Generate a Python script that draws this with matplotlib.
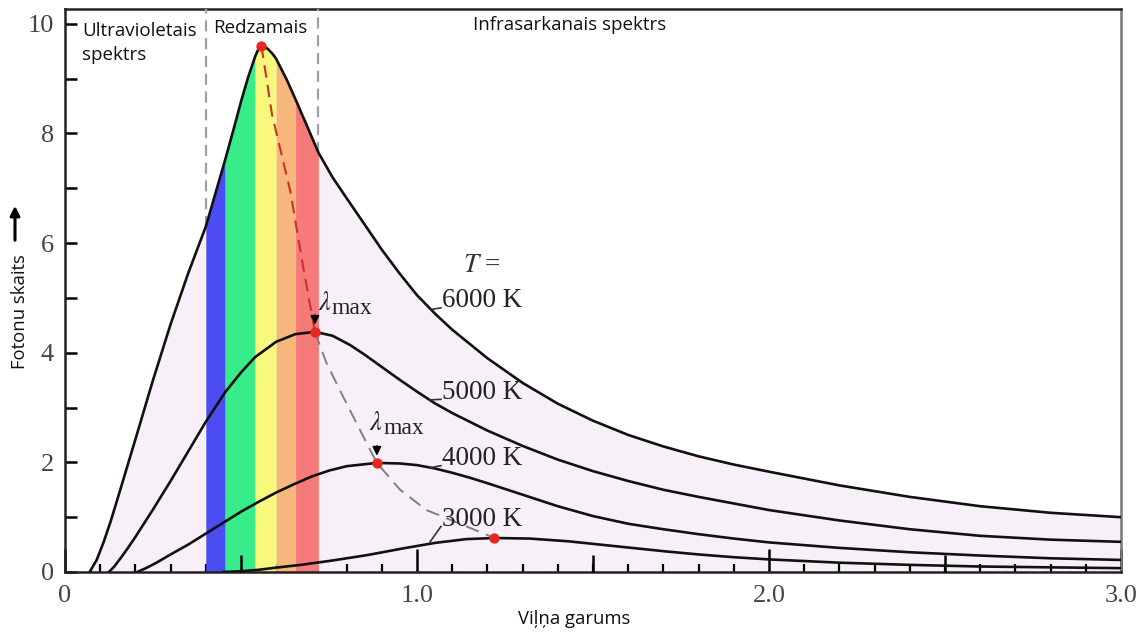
import matplotlib
matplotlib.use("Agg")
import matplotlib.pyplot as plt
import numpy as np
from matplotlib.ticker import FixedLocator, MultipleLocator

plt.rcParams["mathtext.fontset"] = "stix"

# photon count vs wavelength for each temperature
X_6000 = [0.07, 0.09, 0.11, 0.13, 0.15, 0.20, 0.25, 0.30, 0.35, 0.40, 0.455,
          0.48, 0.50, 0.52, 0.54, 0.549, 0.558, 0.567, 0.578, 0.59, 0.60, 0.63,
          0.655, 0.69, 0.72, 0.76, 0.80, 0.85, 0.90, 0.95, 1.00, 1.05, 1.10,
          1.20, 1.30, 1.40, 1.50, 1.60, 1.70, 1.80, 1.90, 2.00, 2.20, 2.40,
          2.60, 2.80, 3.00]
Y_6000 = [0.0, 0.22, 0.55, 0.93, 1.35, 2.42, 3.5, 4.52, 5.45, 6.3, 7.52,
          8.1, 8.58, 9.02, 9.4, 9.53, 9.6, 9.59, 9.53, 9.45, 9.36, 8.98,
          8.62, 8.1, 7.65, 7.2, 6.82, 6.35, 5.88, 5.45, 5.05, 4.72, 4.42,
          3.9, 3.45, 3.07, 2.76, 2.5, 2.29, 2.11, 1.96, 1.83, 1.58, 1.37,
          1.2, 1.08, 1.0]

X_5000 = [0.125, 0.14, 0.16, 0.18, 0.20, 0.25, 0.30, 0.35, 0.40, 0.455, 0.50,
          0.54, 0.60, 0.655, 0.71, 0.76, 0.81, 0.85, 0.90, 0.95, 1.00, 1.05,
          1.10, 1.20, 1.30, 1.40, 1.50, 1.60, 1.70, 1.80, 1.90, 2.00, 2.20,
          2.40, 2.60, 2.80, 3.00]
Y_5000 = [0.0, 0.1, 0.27, 0.45, 0.64, 1.14, 1.66, 2.2, 2.74, 3.28, 3.64,
          3.92, 4.2, 4.34, 4.38, 4.31, 4.14, 3.97, 3.74, 3.51, 3.29, 3.08,
          2.9, 2.58, 2.3, 2.05, 1.84, 1.66, 1.5, 1.37, 1.25, 1.13, 0.94,
          0.78, 0.66, 0.59, 0.55]

X_4000 = [0.205, 0.23, 0.26, 0.30, 0.35, 0.40, 0.45, 0.50, 0.55, 0.60, 0.65,
          0.70, 0.75, 0.80, 0.886, 0.95, 1.00, 1.05, 1.10, 1.15, 1.20, 1.30,
          1.40, 1.50, 1.60, 1.70, 1.80, 1.90, 2.00, 2.20, 2.40, 2.60, 2.80, 3.00]
Y_4000 = [0.0, 0.07, 0.17, 0.32, 0.5, 0.7, 0.9, 1.1, 1.28, 1.45, 1.6,
          1.74, 1.85, 1.93, 1.99, 1.98, 1.95, 1.89, 1.81, 1.72, 1.62, 1.41,
          1.2, 1.02, 0.88, 0.78, 0.69, 0.61, 0.54, 0.44, 0.36, 0.3, 0.25, 0.22]

X_3000 = [0.45, 0.50, 0.55, 0.60, 0.67, 0.76, 0.86, 0.96, 1.05, 1.14, 1.22,
          1.32, 1.43, 1.52, 1.61, 1.70, 1.80, 1.90, 2.00, 2.20, 2.40, 2.60,
          2.80, 3.00]
Y_3000 = [0.0, 0.015, 0.04, 0.08, 0.13, 0.21, 0.31, 0.43, 0.53, 0.6, 0.62,
          0.61, 0.56, 0.5, 0.44, 0.38, 0.32, 0.27, 0.23, 0.17, 0.13, 0.1,
          0.085, 0.07]

TEMPS = ["6000 K", "5000 K", "4000 K", "3000 K"]

# wavelength of maximum and its height
PEAK_X = [0.558, 0.71, 0.886, 1.22]
PEAK_Y = [9.6, 4.38, 1.99, 0.62]

# Wien displacement path through the maxima
WIEN_HOT_X = [0.558, 0.588, 0.64, 0.677, 0.71]
WIEN_HOT_Y = [9.6, 8.35, 6.95, 5.55, 4.38]
WIEN_COOL_X = [0.71, 0.743, 0.79, 0.838, 0.886, 0.952, 1.027, 1.141, 1.22]
WIEN_COOL_Y = [4.38, 3.81, 3.2, 2.59, 1.99, 1.50, 1.13, 0.83, 0.62]

# visible band edges and colours
BAND_EDGES = [0.40, 0.455, 0.54, 0.60, 0.655, 0.72]
BAND_COLORS = ["#4b4cf2", "#38ec8a", "#f8f87c", "#f7b67c", "#f77a7a"]

W, H = 1141, 634
fig = plt.figure(figsize=(W / 100, H / 100), dpi=100)
ax = fig.add_axes([65 / W, 1 - 572 / H, (1121 - 65) / W, (572 - 9) / H])
ax.set_xlim(0, 3.0)
ax.set_ylim(0, 10.27)

x6 = np.array(X_6000)
y6 = np.array(Y_6000)
ax.fill_between(x6, y6, color="#f8f0f8", lw=0, zorder=1)
for lo, hi, c in zip(BAND_EDGES[:-1], BAND_EDGES[1:], BAND_COLORS):
    m = (x6 >= lo) & (x6 <= hi)
    ax.fill_between(x6[m], y6[m], color=c, lw=0, zorder=2)

# borders of the visible range
for edge in (BAND_EDGES[0], BAND_EDGES[-1]):
    ax.vlines(edge, y6[x6 == edge][0], 10.27, colors="#a0a0a0", lw=1.6,
              linestyles=(0, (5, 3)), zorder=3)

curves = [(X_6000, Y_6000), (X_5000, Y_5000), (X_4000, Y_4000), (X_3000, Y_3000)]
for xs, ys in curves:
    ax.plot(xs, ys, color="#111111", lw=1.9, zorder=4,
            solid_joinstyle="round")

ax.plot(WIEN_HOT_X, WIEN_HOT_Y, color="#c8332c", lw=1.5, dashes=(6, 3.5), zorder=5)
ax.plot(WIEN_COOL_X, WIEN_COOL_Y, color="#808080", lw=1.4, dashes=(7, 4), zorder=5)
ax.scatter(PEAK_X, PEAK_Y, s=55, color="#e6281e", zorder=6, lw=0)

serif = "Liberation Serif"
# temperature labels with short leader lines
label_y = [4.95, 3.28, 2.07, 0.96]
leader = [(1.042, 4.79), (1.037, 3.14), (1.037, 1.90), (1.037, 0.55)]
for name, ly, (lx0, ly0) in zip(TEMPS, label_y, leader):
    ax.plot([lx0, 1.068], [ly0, ly - 0.13], color="#333333", lw=1.2, zorder=5)
    ax.text(1.072, ly, name, fontsize=19.5, family=serif, color="#222222",
            va="center", ha="left", zorder=7)
ax.text(1.13, 5.6, r"$T$ =", fontsize=19.5, family=serif, color="#333333",
        va="center", ha="left", zorder=7)

# lambda max markers
for (px, py), (tx, ty) in zip([(0.71, 4.38), (0.886, 1.99)], [(0.718, 4.9), (0.864, 2.72)]):
    ax.annotate("", xy=(px, py + 0.08), xytext=(px, py + 0.36),
                arrowprops=dict(arrowstyle="-|>", color="black", lw=1.2,
                                mutation_scale=13), zorder=7)
    ax.text(tx, ty, r"$\lambda$", fontsize=19, color="#222222",
            va="center", ha="left", zorder=7)
    ax.annotate("max", xy=(tx, ty), xytext=(10, -4), textcoords="offset points",
                fontsize=17, family=serif, color="#222222",
                va="center", ha="left", zorder=7)

# axes and ticks
ax.xaxis.set_major_locator(FixedLocator([0, 1, 2, 3]))
ax.set_xticklabels(["0", "1.0", "2.0", "3.0"])
ax.xaxis.set_minor_locator(MultipleLocator(0.1))
ax.yaxis.set_major_locator(MultipleLocator(2))
ax.yaxis.set_minor_locator(MultipleLocator(1))
ax.tick_params(axis="x", which="major", direction="in", length=16.5, width=1.8,
               pad=9, labelsize=19, labelcolor="#444444")
ax.tick_params(axis="x", which="minor", direction="in", length=5.8, width=1.6)
ax.tick_params(axis="y", which="both", direction="in", length=8.6, width=1.8,
               pad=8, labelsize=19, labelcolor="#444444")
for lab in ax.get_xticklabels() + ax.get_yticklabels():
    lab.set_family(serif)

half = ax.secondary_xaxis("bottom")
half.set_xticks([0.5, 1.5, 2.5])
half.tick_params(direction="in", length=12, width=1.8, labelbottom=False)
half.spines["bottom"].set_visible(False)
half.set_zorder(3)

for side in ("left", "bottom", "top"):
    ax.spines[side].set_linewidth(1.8)
    ax.spines[side].set_color("#222222")
ax.spines["right"].set_linewidth(1.8)
ax.spines["right"].set_color("#777777")

sans = "Open Sans"
fig.text(82 / W, 1 - 43 / H, "Ultravioletais\nspektrs", fontsize=13.5, family=sans,
         va="center", ha="left", linespacing=1.45, color="#111111")
fig.text(213 / W, 1 - 28 / H, "Redzamais", fontsize=13.5, family=sans,
         va="center", ha="left", color="#111111")
fig.text(473 / W, 1 - 25 / H, "Infrasarkanais spektrs", fontsize=13.5, family=sans,
         va="center", ha="left", color="#111111")
fig.text(518 / W, 1 - 619 / H, "Viļņa garums", fontsize=13.3, family=sans,
         va="center", ha="left", color="#111111")
fig.text(20 / W, 1 - 312 / H, "Fotonu skaits", fontsize=13.3, family=sans,
         va="center", ha="center", rotation=90, color="#111111")
ax.annotate("", xy=(15 / W, 1 - 203 / H), xytext=(15 / W, 1 - 243 / H),
            xycoords="figure fraction", textcoords="figure fraction",
            arrowprops=dict(arrowstyle="-|>", color="black", lw=2.2, mutation_scale=14))

fig.savefig("out.png", dpi=100)
